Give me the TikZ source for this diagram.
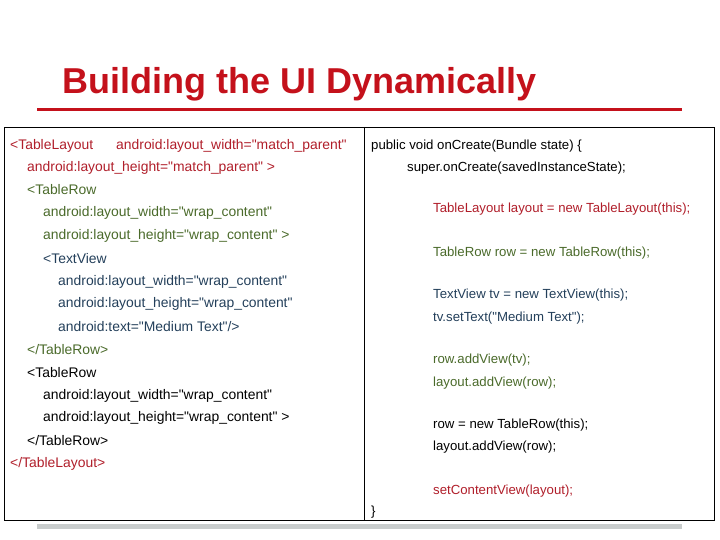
\documentclass[tikz,border=0pt]{standalone}
\usepackage{fontspec}
\setmainfont{Liberation Sans}
\definecolor{cred}{HTML}{B01E2A}
\definecolor{cgreen}{HTML}{4A6A2A}
\definecolor{cblue}{HTML}{233F5A}
\definecolor{tred}{HTML}{C4111B}
\definecolor{bargray}{HTML}{C8CCCC}
\newcommand{\qq}{\textquotedbl}
\begin{document}
\begin{tikzpicture}[x=1pt,y=-1pt,
  code/.style={anchor=west,inner sep=0pt,font=\fontsize{13.9}{16}\selectfont},
  rcode/.style={anchor=west,inner sep=0pt,font=\fontsize{13.2}{16}\selectfont},
  title/.style={anchor=west,inner sep=0pt,text=tred,font=\fontsize{36}{40}\selectfont\bfseries}]
\useasboundingbox (0,0) rectangle (720,540);
\node[title] (t) at (62,84) {Building the UI Dynamically};
\fill[tred] (37,108) rectangle (682,111);
\fill[bargray] (37,524) rectangle (682,529);
\draw[line width=0.8pt] (4,127) rectangle (714,520);
\draw[line width=0.8pt] (364,127) -- (364,520);
% left
\node[code,text=cred] (l1a) at (10,146) {<TableLayout};
\node[code,text=cred] (l1b) at (116,146) {android:layout\_width=\qq match\_parent\qq};
\node[code,text=cred] (l2) at (27,168) {android:layout\_height=\qq match\_parent\qq{} >};
\node[code,text=cgreen] (l3) at (27,190) {<TableRow};
\node[code,text=cgreen] (l4) at (43,213) {android:layout\_width=\qq wrap\_content\qq};
\node[code,text=cgreen] (l5) at (43,236) {android:layout\_height=\qq wrap\_content\qq{} >};
\node[code,text=cblue] (l6) at (43,259) {<TextView};
\node[code,text=cblue] (l7) at (58,282) {android:layout\_width=\qq wrap\_content\qq};
\node[code,text=cblue] (l8) at (58,304) {android:layout\_height=\qq wrap\_content\qq};
\node[code,text=cblue] (l9) at (58,327) {android:text=\qq Medium Text\qq/>};
\node[code,text=cgreen] (l10) at (27,350) {</TableRow>};
\node[code] (l11) at (27,373) {<TableRow};
\node[code] (l12) at (43,396) {android:layout\_width=\qq wrap\_content\qq};
\node[code] (l13) at (43,418) {android:layout\_height=\qq wrap\_content\qq{} >};
\node[code] (l14) at (27,441) {</TableRow>};
\node[code,text=cred] (l15) at (10,464) {</TableLayout>};
% right
\node[rcode] (r1) at (371,146) {public void onCreate(Bundle state) \{};
\node[rcode] (r2) at (407,168) {super.onCreate(savedInstanceState);};
\node[rcode,text=cred] (r3) at (433,209) {TableLayout layout = new TableLayout(this);};
\node[rcode,text=cgreen] (r4) at (433,253) {TableRow row = new TableRow(this);};
\node[rcode,text=cblue] (r5) at (433,295) {TextView tv = new TextView(this);};
\node[rcode,text=cblue] (r6) at (433,318) {tv.setText(\qq Medium Text\qq);};
\node[rcode,text=cgreen] (r7) at (433,360) {row.addView(tv);};
\node[rcode,text=cgreen] (r8) at (433,383) {layout.addView(row);};
\node[rcode] (r9) at (433,425) {row = new TableRow(this);};
\node[rcode] (r10) at (433,447) {layout.addView(row);};
\node[rcode,text=cred] (r11) at (433,491) {setContentView(layout);};
\node[rcode] (r12) at (371,512) {\}};
\end{tikzpicture}
\end{document}
